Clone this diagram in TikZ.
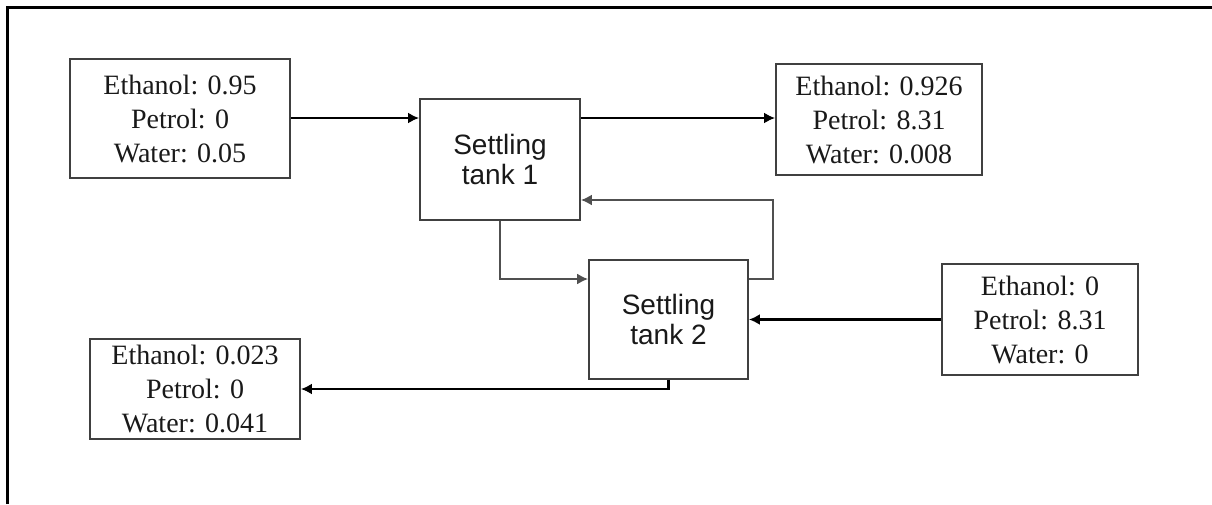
\documentclass[tikz,border=0pt]{standalone}
\usepackage{fontspec}
\setmainfont{Liberation Serif}
\newfontfamily\arialfont{Liberation Sans}
\usetikzlibrary{arrows.meta}
\definecolor{boxgray}{HTML}{404040}
\definecolor{linegray}{HTML}{505050}
\tikzset{
  flowbox/.style={draw=boxgray, line width=1.8pt, inner sep=0pt, align=center,
    font=\fontsize{28}{34}\selectfont, text=black!90},
  tankbox/.style={draw=boxgray, line width=1.8pt, inner sep=0pt, align=center,
    font=\arialfont\fontsize{28}{29.5}\selectfont, text=black!90},
  mainflow/.style={draw=black, line width=2.6pt, -{Latex[length=11pt,width=11pt]}},
  sideflow/.style={draw=linegray, line width=1.9pt, -{Latex[length=11pt,width=11pt]}}
}
\begin{document}
\begin{tikzpicture}[x=1pt, y=-1pt]
\useasboundingbox (0,0) rectangle (1212,504);
\draw[line width=2.6pt, black] (7.5,504) -- (7.5,7.5) -- (1212,7.5);

\node[flowbox, minimum width=220pt, minimum height=119pt] (A) at (180,118.5)
  {Ethanol: 0.95\\Petrol: 0\\Water: 0.05};
\node[tankbox, minimum width=160pt, minimum height=121pt] (T1) at (500,159.5)
  {Settling\\tank 1};
\node[flowbox, minimum width=206pt, minimum height=111pt] (B) at (879,119.5)
  {Ethanol: 0.926\\Petrol: 8.31\\Water: 0.008};
\node[tankbox, minimum width=159pt, minimum height=119pt] (T2) at (668.5,319.5)
  {Settling\\tank 2};
\node[flowbox, minimum width=196pt, minimum height=111pt] (C) at (1040,319.5)
  {Ethanol: 0\\Petrol: 8.31\\Water: 0};
\node[flowbox, minimum width=210pt, minimum height=100pt] (D) at (195,389)
  {Ethanol: 0.023\\Petrol: 0\\Water: 0.041};

\coordinate (r) at (0,279);
\coordinate (rc) at (773,200);
\coordinate (lowy) at (0,389);

\draw[mainflow] (A.east |- 0,118) -- (T1.west |- 0,118);
\draw[mainflow] (T1.east |- 0,118) -- (B.west |- 0,118);
\draw[sideflow] (T1.south) |- (T2.west |- r);
\draw[sideflow] (T2.east |- r) -| (rc) -- (T1.east |- rc);
\draw[mainflow] (C.west) -- (T2.east |- C.west);
\draw[mainflow] (T2.south) |- (D.east |- lowy);
\end{tikzpicture}
\end{document}
